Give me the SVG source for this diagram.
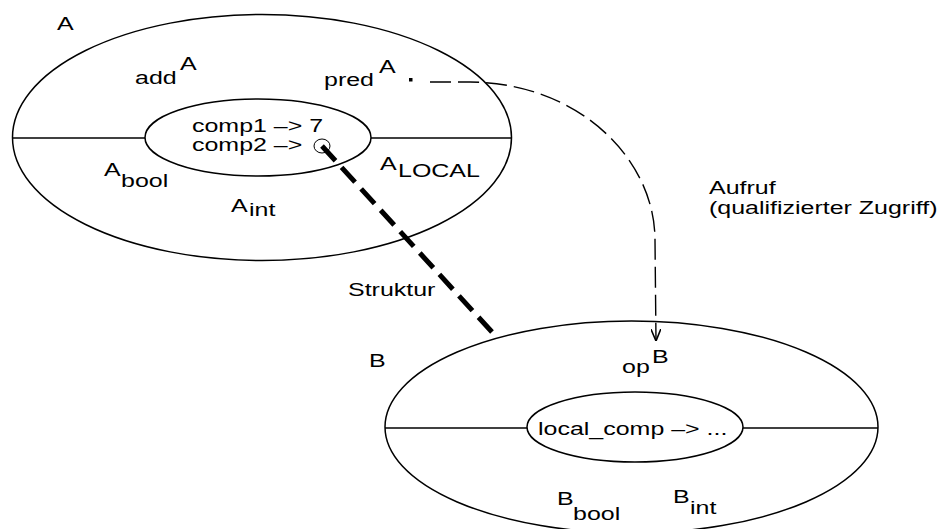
<svg xmlns="http://www.w3.org/2000/svg" width="943" height="529" viewBox="0 0 943 529">
<defs>
<style>
.bg{fill:#fff}
.sh{fill:none;stroke:#000;stroke-width:1.5}
.t{font-family:"Liberation Sans",Arial,sans-serif;font-size:18.5px;fill:#000}
.call{fill:none;stroke:#000;stroke-width:1.4;stroke-dasharray:21 7}
.struct{fill:none;stroke:#000;stroke-width:5;stroke-dasharray:20 9}
</style>
<marker id="open" viewBox="0 0 12 10" refX="12" refY="5" markerWidth="12" markerHeight="10" markerUnits="userSpaceOnUse" orient="auto">
<path d="M0,0 L12,5 L0,10" fill="none" stroke="#000" stroke-width="1.6" stroke-dasharray="none"/>
</marker>
</defs>
<rect class="bg" x="0" y="0" width="943" height="529"/>

<g id="A">
<ellipse class="sh" cx="262" cy="137.5" rx="249.5" ry="123"/>
<line class="sh" x1="12.5" y1="138" x2="145" y2="138"/>
<line class="sh" x1="371" y1="138" x2="511.5" y2="138"/>
<text class="t" transform="translate(57,30) scale(1.35,1)">A</text>
<text class="t" transform="translate(135,84) scale(1.35,1)">add</text>
<text class="t" transform="translate(180,70) scale(1.35,1)">A</text>
<text class="t" transform="translate(324,86) scale(1.35,1)">pred</text>
<text class="t" transform="translate(379,73) scale(1.35,1)">A</text>
<text class="t" transform="translate(104,176) scale(1.35,1)">A</text>
<text class="t" transform="translate(121,187) scale(1.35,1)">bool</text>
<text class="t" transform="translate(231,212) scale(1.35,1)">A</text>
<text class="t" transform="translate(249,216) scale(1.35,1)">int</text>
<text class="t" transform="translate(380,170) scale(1.35,1)">A</text>
<text class="t" transform="translate(398,177) scale(1.35,1)">LOCAL</text>
</g>

<g id="A_inner">
<ellipse class="sh" cx="258" cy="137.5" rx="113" ry="38.5"/>
<text class="t" transform="translate(192,132) scale(1.35,1)">comp1 –&gt; 7</text>
<text class="t" transform="translate(192,151) scale(1.35,1)">comp2 –&gt;</text>
<ellipse fill="none" stroke="#000" stroke-width="1" cx="322" cy="146" rx="8" ry="7"/>
</g>

<g id="B">
<ellipse class="sh" cx="631.5" cy="427" rx="246.5" ry="106"/>
<line class="sh" x1="385" y1="428" x2="527" y2="428"/>
<line class="sh" x1="743" y1="428" x2="878" y2="428"/>
<text class="t" transform="translate(369,367) scale(1.35,1)">B</text>
<text class="t" transform="translate(622,373) scale(1.35,1)">op</text>
<text class="t" transform="translate(652,363) scale(1.35,1)">B</text>
<text class="t" transform="translate(557,505) scale(1.35,1)">B</text>
<text class="t" transform="translate(573,520) scale(1.35,1)">bool</text>
<text class="t" transform="translate(673,503) scale(1.35,1)">B</text>
<text class="t" transform="translate(690,514) scale(1.35,1)">int</text>
</g>

<g id="B_inner">
<ellipse class="sh" cx="635" cy="427" rx="108" ry="35"/>
<text class="t" transform="translate(538,435) scale(1.35,1)">local_comp –&gt; ...</text>
</g>

<g id="connectors">
<rect x="409" y="78" width="3.5" height="3.5" fill="#000"/>
<path class="call" d="M430,82 L470,82 C580,83 655,160 655,240 L656,341" marker-end="url(#open)"/>
<text class="t" transform="translate(709,194) scale(1.35,1)">Aufruf</text>
<text class="t" transform="translate(709,214) scale(1.35,1)">(qualifizierter Zugriff)</text>
<path class="struct" d="M322,146 L492,332"/>
<text class="t" transform="translate(348,296) scale(1.35,1)">Struktur</text>
</g>
</svg>
